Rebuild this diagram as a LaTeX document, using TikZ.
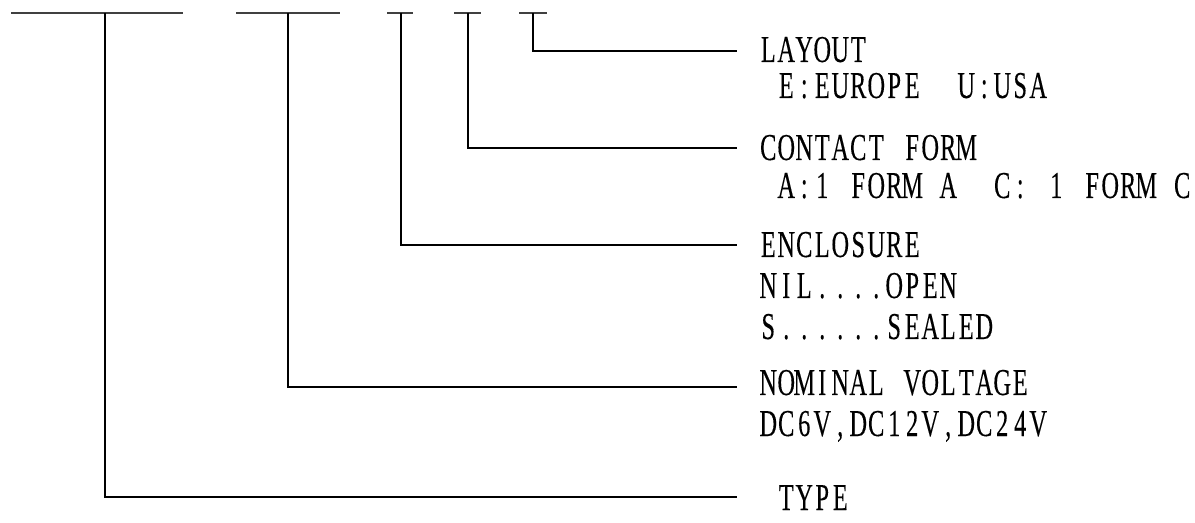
\documentclass[tikz,border=0pt]{standalone}
\usepackage{fontspec}
\setmainfont{Liberation Serif}[FakeStretch=0.64,FakeBold=0.2]
\makeatletter
\newcommand\monotext[1]{\@tfor\mt@c:=#1\do{\makebox[13.5pt][c]{\mt@c}}}
\makeatother
\tikzset{
  lbl/.style={anchor=base west, inner sep=0pt, font=\fontsize{28.5pt}{34pt}\selectfont},
  lead/.style={line width=0.9pt, black},
  seg/.style={line width=0.9pt, black!75}
}
\begin{document}
\begin{tikzpicture}[x=0.75pt,y=-0.75pt]
\useasboundingbox (0,0) rectangle (1195,523);
% top segments
\coordinate (s1a) at (11,13);  \coordinate (s1b) at (183,13);
\coordinate (s2a) at (236,13); \coordinate (s2b) at (340,13);
\coordinate (s3a) at (387,13); \coordinate (s3b) at (413,13);
\coordinate (s4a) at (454,13); \coordinate (s4b) at (481,13);
\coordinate (s5a) at (519,13); \coordinate (s5b) at (547,13);
\draw[seg] (s1a) -- (s1b);
\draw[seg] (s2a) -- (s2b);
\draw[seg] (s3a) -- (s3b);
\draw[seg] (s4a) -- (s4b);
\draw[seg] (s5a) -- (s5b);
% stem tops
\coordinate (t1) at (105,13);
\coordinate (t2) at (288,13);
\coordinate (t3) at (401,13);
\coordinate (t4) at (468,13);
\coordinate (t5) at (533,13);
% lead ends
\coordinate (e5) at (737,51);
\coordinate (e4) at (737,148);
\coordinate (e3) at (737,245);
\coordinate (e2) at (737,387);
\coordinate (e1) at (737,497);
\draw[lead] (t5) |- (e5);
\draw[lead] (t4) |- (e4);
\draw[lead] (t3) |- (e3);
\draw[lead] (t2) |- (e2);
\draw[lead] (t1) |- (e1);
% labels
\node[lbl] (layout) at (759,62) {\monotext{LAYOUT}};
\node[lbl] (layout2) at (759,98) {\monotext{~E:EUROPE~~U:USA}};
\node[lbl] (contact) at (759,160) {\monotext{CONTACT~FORM}};
\node[lbl] (contact2) at (759,198) {\monotext{~A:1~FORM~A~~C:~1~FORM~C}};
\node[lbl] (encl) at (759,257) {\monotext{ENCLOSURE}};
\node[lbl] (encl2) at (759,298) {\monotext{NIL....OPEN}};
\node[lbl] (encl3) at (759,339) {\monotext{S......SEALED}};
\node[lbl] (nom) at (759,395) {\monotext{NOMINAL~VOLTAGE}};
\node[lbl] (nom2) at (759,436) {\monotext{DC6V,DC12V,DC24V}};
\node[lbl] (type) at (759,510) {\monotext{~TYPE}};
\end{tikzpicture}
\end{document}
